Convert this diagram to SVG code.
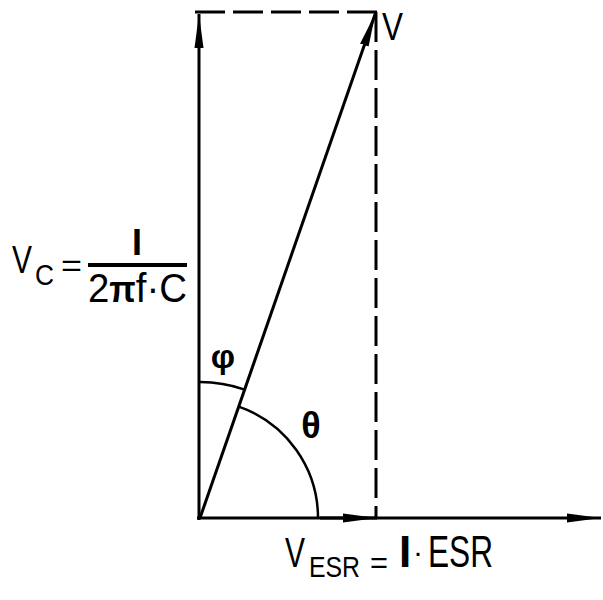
<svg xmlns="http://www.w3.org/2000/svg" width="603" height="600" viewBox="0 0 603 600">
<style>
.ln{stroke:#000;stroke-width:3;fill:none}
.dash{stroke:#000;stroke-width:3;fill:none;stroke-dasharray:30 8}
.arc{stroke:#000;stroke-width:2.5;fill:none}
.t{font-family:"Liberation Sans",Arial,sans-serif;fill:#000}
.b{font-weight:bold}
</style>
<defs>
<marker id="ah" markerUnits="userSpaceOnUse" markerWidth="36" markerHeight="12" refX="34" refY="6" orient="auto">
<path d="M0,1.5 L34,6 L0,10.5 z" fill="#000"/>
</marker>
</defs>
<rect width="603" height="600" fill="#fff"/>
<g id="connectors">
<line class="ln" x1="199" y1="520" x2="199" y2="14" marker-end="url(#ah)"/>
<line class="ln" x1="197" y1="518" x2="601" y2="518" marker-end="url(#ah)"/>
<line class="ln" x1="320" y1="518" x2="377" y2="518" marker-end="url(#ah)"/>
<line class="ln" x1="200" y1="518" x2="375.5" y2="13" marker-end="url(#ah)"/>
<line class="dash" x1="195" y1="12" x2="377" y2="12"/>
<line class="dash" x1="376" y1="12" x2="376" y2="518"/>
<path class="arc" d="M200,382 A136,136 0 0,1 244.7,389.6"/>
<path class="arc" d="M238.8,406.6 A118,118 0 0,1 318,518"/>
</g>
<g id="label-V">
<text class="t" x="382" y="40" font-size="38" textLength="21" lengthAdjust="spacingAndGlyphs">V</text>
</g>
<g id="label-phi">
<text class="t b" x="223" y="368" font-size="34" text-anchor="middle">φ</text>
</g>
<g id="label-theta">
<text class="t b" x="311" y="438" font-size="36" text-anchor="middle">θ</text>
</g>
<g id="label-Vc">
<text class="t" x="12" y="273" font-size="38" textLength="20" lengthAdjust="spacingAndGlyphs">V</text>
<text class="t" x="35" y="285" font-size="30" textLength="19" lengthAdjust="spacingAndGlyphs">C</text>
<text class="t" x="61" y="276" font-size="32" textLength="21" lengthAdjust="spacingAndGlyphs">=</text>
<line x1="88" y1="265" x2="187" y2="265" stroke="#000" stroke-width="4"/>
<text class="t b" x="137" y="255" font-size="36" text-anchor="middle">I</text>
<text class="t" x="88" y="302" font-size="40" textLength="99" lengthAdjust="spacingAndGlyphs">2<tspan font-weight="bold" font-size="36">π</tspan>f·C</text>
</g>
<g id="label-Vesr">
<text class="t" x="285" y="567" font-size="42" textLength="20" lengthAdjust="spacingAndGlyphs">V</text>
<text class="t" x="309" y="577" font-size="30" textLength="51" lengthAdjust="spacingAndGlyphs">ESR</text>
<text class="t" x="370" y="573" font-size="30" textLength="18" lengthAdjust="spacingAndGlyphs">=</text>
<text class="t b" x="405" y="567" font-size="44" text-anchor="middle">I</text>
<text class="t" x="413" y="562" font-size="30">·</text>
<text class="t" x="428" y="567" font-size="44" textLength="65" lengthAdjust="spacingAndGlyphs">ESR</text>
</g>
</svg>
